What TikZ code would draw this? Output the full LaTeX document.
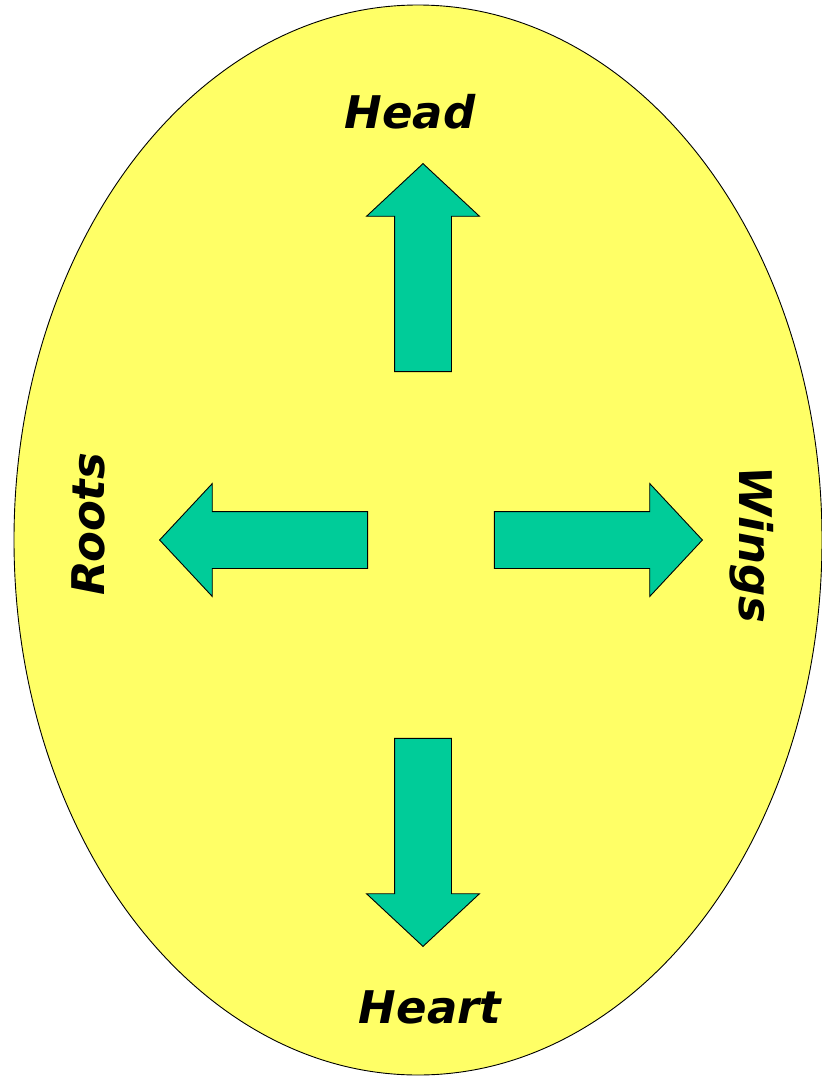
\documentclass[tikz,border=0pt]{standalone}
\usepackage{fontspec}
\setmainfont{DejaVu Sans}
\usepackage{tikz}
\usetikzlibrary{shapes.arrows, shapes.geometric, positioning}
\definecolor{eggyellow}{HTML}{FFFF66}
\definecolor{seagreen}{HTML}{00CC99}

\begin{document}
\begin{tikzpicture}[
        x=1pt, y=-1pt,
        blockarrow/.style={single arrow, draw=black, fill=seagreen, line width=0.9pt,
            inner xsep=0pt, inner ysep=28pt, anchor=tip,
            minimum width=112pt, minimum height=208pt,
            single arrow head extend=28pt, single arrow tip angle=94, single arrow head indent=0pt},
        word/.style={inner sep=0pt, font=\fontsize{45}{50}\selectfont\bfseries\itshape}
    ]
    \useasboundingbox (0,0) rectangle (822,1077);
    \node[ellipse, draw=black, fill=eggyellow, line width=0.9pt, inner sep=0pt,
        minimum width=808pt, minimum height=1070pt] (disc) at (418,540) {};
    \node[blockarrow, rotate=90] (up) at (423,163) {};
    \node[blockarrow, rotate=-90] (down) at (423,947) {};
    \node[blockarrow, rotate=180] (left) at (159,540) {};
    \node[blockarrow] (right) at (703,540) {};
    \node[word] (head) at (410,112) {Head};
    \node[word] (heart) at (430,1007) {Heart};
    \node[word, rotate=90] (roots) at (88,524) {Roots};
    \node[word, rotate=-90] (wings) at (752,545) {Wings};
\end{tikzpicture}
\end{document}
